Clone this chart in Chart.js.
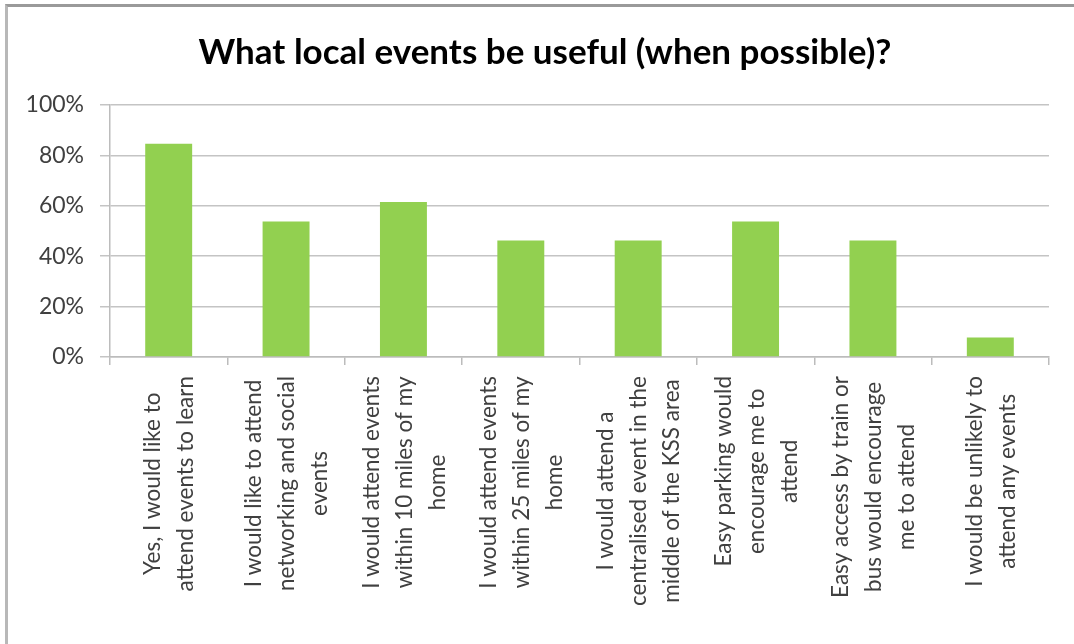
<!DOCTYPE html>
<html>
<head>
<meta charset="utf-8">
<script src="https://cdn.jsdelivr.net/npm/chart.js@4/dist/chart.umd.min.js"></script>
<style>
  html, body { margin: 0; padding: 0; background: #fff; }
  #wrap { position: relative; width: 1074px; height: 644px; overflow: hidden; }
  #frame { position: absolute; left: 5px; top: 4px; right: -10px; bottom: -10px;
           border-top: 3px solid #9a9a9a; border-left: 3px solid #b8b8b8; pointer-events: none; }
</style>
</head>
<body>
<div id="wrap">
  <canvas id="c" width="1074" height="644"></canvas>
  <div id="frame"></div>
</div>
<script>
const chartTitle = "What local events be useful (when possible)?";
const categories = [
  ["Yes, I would like to", "attend events to learn"],
  ["I would like to attend", "networking and social", "events"],
  ["I would attend events", "within 10 miles of my", "home"],
  ["I would attend events", "within 25 miles of my", "home"],
  ["I would attend a", "centralised event in the", "middle of the KSS area"],
  ["Easy parking would", "encourage me to", "attend"],
  ["Easy access by train or", "bus would encourage", "me to attend"],
  ["I would be unlikely to", "attend any events"]
];
const percentValues = [84.6, 53.8, 61.5, 46.2, 46.2, 53.8, 46.2, 7.7];
const yTickMin = 0;
const yTickMax = 100;
const yTickStep = 20;

const FONT = "Lato, 'Open Sans', sans-serif";

const labelPlugin = {
  id: 'centeredRotatedLabels',
  afterDraw(chart) {
    const xs = chart.scales.x;
    const ctx = chart.ctx;
    ctx.save();
    ctx.font = "22.5px " + FONT;
    ctx.fillStyle = '#404040';
    ctx.textAlign = 'center';
    ctx.textBaseline = 'middle';
    const lh = 33;
    const gap = 19;
    categories.forEach((lines, i) => {
      const px = xs.getPixelForValue(i) + 1;
      const maxW = Math.max(...lines.map(l => ctx.measureText(l).width));
      ctx.save();
      ctx.translate(px, xs.top + gap + maxW / 2);
      ctx.rotate(-Math.PI / 2);
      lines.forEach((l, j) => ctx.fillText(l, 0, (j - (lines.length - 1) / 2) * lh));
      ctx.restore();
    });
    // title
    ctx.font = "bold 35px " + FONT;
    ctx.fillStyle = '#000';
    ctx.textAlign = 'center';
    ctx.fillText(chartTitle, 545, 53);
    ctx.restore();
  }
};

new Chart(document.getElementById('c'), {
  type: 'bar',
  data: {
    labels: categories.map(l => l.join(' ')),
    datasets: [{
      data: percentValues,
      backgroundColor: '#92D050',
      borderWidth: 0,
      barPercentage: 0.8,
      categoryPercentage: 0.5
    }]
  },
  options: {
    responsive: false,
    animation: false,
    devicePixelRatio: 1,
    layout: { padding: { top: 105, right: 25, bottom: 0, left: 0 } },
    plugins: { legend: { display: false }, tooltip: { enabled: false }, title: { display: false } },
    scales: {
      x: {
        ticks: { display: false },
        grid: { drawOnChartArea: false, drawTicks: true, tickLength: 8, color: '#bcbcbc', lineWidth: 1.5, offset: true },
        border: { color: '#bcbcbc', width: 1.5 },
        afterFit(scale) { scale.height = 287; }
      },
      y: {
        min: yTickMin,
        max: yTickMax,
        ticks: {
          stepSize: yTickStep,
          callback: v => v + '%',
          font: { family: FONT, size: 23 },
          color: '#404040',
          padding: 16
        },
        grid: { color: '#c4c4c4', lineWidth: 1.5, tickLength: 10 },
        border: { color: '#bcbcbc', width: 1.5 },
        afterFit(scale) { scale.width = 110; }
      }
    }
  },
  plugins: [labelPlugin]
});
</script>
</body>
</html>
